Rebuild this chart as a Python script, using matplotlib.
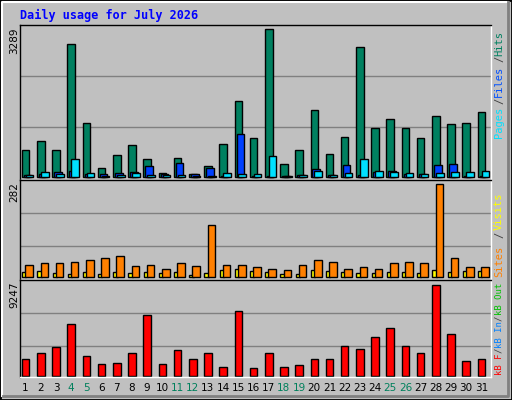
import matplotlib.pyplot as plt
import numpy as np
from matplotlib.patches import Rectangle

days = np.arange(1, 32)
weekend = [4, 5, 11, 12, 18, 19, 25, 26]

hits = [610, 790, 590, 2950, 1210, 190, 480, 720, 410, 100, 430, 75, 250, 740,
        1680, 860, 3289, 300, 590, 1500, 520, 880, 2890, 1100, 1300, 1080, 860,
        1350, 1170, 1210, 1440]
files = [50, 75, 120, 140, 75, 75, 95, 120, 250, 75, 320, 75, 210, 30, 945,
         30, 30, 30, 50, 185, 50, 275, 50, 120, 140, 75, 75, 275, 300, 30, 30]
pages = [50, 120, 75, 410, 95, 30, 50, 95, 50, 50, 50, 30, 30, 95, 75, 75,
         475, 30, 50, 140, 50, 95, 410, 140, 120, 95, 75, 95, 120, 120, 140]
sites = [35, 41, 41, 44, 50, 56, 62, 32, 35, 25, 41, 32, 157, 35, 35, 29, 22,
         19, 35, 50, 44, 25, 29, 25, 41, 44, 41, 282, 56, 29, 29]
visits = [13, 16, 10, 7, 13, 7, 13, 10, 13, 10, 13, 4, 10, 19, 22, 16, 13, 7,
          7, 19, 16, 13, 10, 10, 13, 13, 10, 19, 13, 16, 16]
kbytes = [1750, 2360, 2970, 5300, 2060, 1250, 1350, 2360, 6210, 1250, 2670,
          1750, 2360, 950, 6610, 840, 2360, 950, 1150, 1750, 1750, 3070, 2770,
          3980, 4890, 3070, 2360, 9247, 4290, 1550, 1750]

bg = '#c0c0c0'
W, H = 512, 400
fig = plt.figure(figsize=(5.12, 4.0), dpi=100, facecolor=bg)

# bevelled border
fig.add_artist(Rectangle((0, 0), 1, 1, transform=fig.transFigure, fill=False, ec='black', lw=2))
fig.add_artist(plt.Line2D([2/W, 2/W, 1-4/W], [4/H, 1-2/H, 1-2/H], transform=fig.transFigure, color='white', lw=1.5))
fig.add_artist(plt.Line2D([3/W, 1-4/W, 1-4/W], [4/H, 4/H, 1-2/H], transform=fig.transFigure, color='#808080', lw=2))

fig.text(20/W, 1-15/H, 'Daily usage for July 2026', color='#0000ff', family='DejaVu Sans Mono',
         weight='bold', fontsize=8.5, va='center')

L, R = 20, 491


def make_ax(top, bottom):
    ax = fig.add_axes([L/W, 1-bottom/H, (R-L)/W, (bottom-top)/H])
    ax.set_facecolor(bg)
    ax.set_xlim(0.5, 31.5)
    ax.set_xticks([])
    ax.set_yticks([])
    for s in ax.spines.values():
        s.set_color('black')
        s.set_linewidth(1)
    ax.spines['right'].set_color('white')
    ax.spines['bottom'].set_color('white')
    return ax


def grid(ax, fracs):
    lo, hi = ax.get_ylim()
    for f in fracs:
        ax.axhline(lo + f*(hi-lo), color='#808080', lw=1, zorder=0)


def side_label(top, bottom, maxval, pieces, span):
    fig.text(14/W, 1-(top+2)/H, str(maxval), rotation=90, va='top', ha='center',
             fontsize=7.5, color='black')
    n = sum(len(p[0]) for p in pieces)
    step = span / n
    fs = min(step / (0.6*100/72), 7.5)
    y = top + 3 + span
    for txt, col in pieces:
        fig.text(499/W, 1-y/H, txt, rotation=90, va='bottom', ha='center', color=col,
                 family='DejaVu Sans Mono', fontsize=fs)
        y -= len(txt)*step


ekw = dict(edgecolor='black', linewidth=1)

# top panel
ax1 = make_ax(25, 180)
k = 3289/148
ax1.set_ylim(-3*k, 152*k)
grid(ax1, [0.342, 0.671])
w = 0.5
ax1.bar(days - 0.13, hits, w, color='#008060', **ekw)
ax1.bar(days, files, w, color='#0040ff', **ekw)
ax1.bar(days + 0.13, pages, w, color='#00e0ff', **ekw)
side_label(25, 180, 3289, [('Pages', '#00e0ff'), ('/', '#404040'), ('Files', '#0050ff'),
                           ('/', '#404040'), ('Hits', '#008060')], 110)

# middle panel
ax2 = make_ax(180, 280)
k = 282/92.3
ax2.set_ylim(-3.3*k, 96.7*k)
grid(ax2, [0.337, 0.667])
ax2.bar(days - 0.22, visits, 0.28, color='#ffff00', **ekw)
ax2.bar(days + 0.1, sites, 0.5, color='#ff8000', **ekw)
side_label(180, 280, 282, [('Sites', '#ff8000'), ('/', '#404040'), ('Visits', '#ffff00')], 94)

# bottom panel
ax3 = make_ax(280, 377)
k = 9247/91.3
ax3.set_ylim(-1*k, 96.7*k)
grid(ax3, [0.317, 0.656])
ax3.bar(days - 0.13, kbytes, 0.5, color='#ff0000', **ekw)
side_label(280, 377, 9247, [('kB F', '#ff0000'), ('/', '#404040'), ('kB In', '#0080ff'),
                            ('/', '#404040'), ('kB Out', '#00c000')], 92)

for d in days:
    x = L + (d - 0.5) / 31 * (R - L) - 2
    fig.text(x/W, 1-388/H, str(d), ha='center', va='center', fontsize=7.5,
             color='#00805c' if d in weekend else 'black')

fig.savefig('out.png', dpi=100, facecolor=bg)
